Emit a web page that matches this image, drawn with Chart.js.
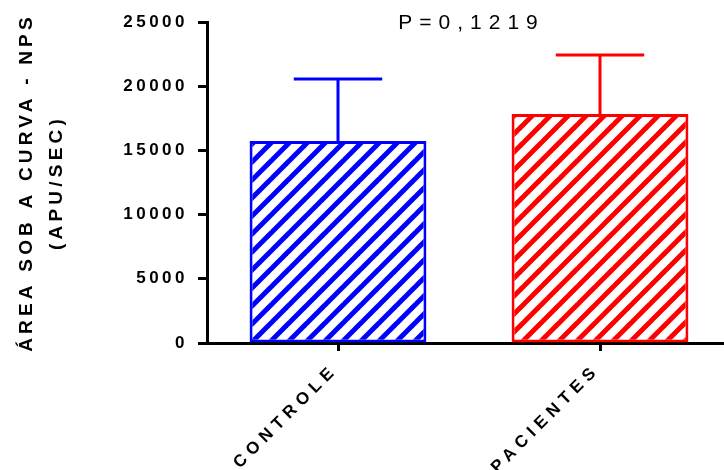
<!DOCTYPE html>
<html>
<head>
<meta charset="utf-8">
<script src="https://cdn.jsdelivr.net/npm/chart.js@4"></script>
<style>
  html, body { margin: 0; padding: 0; background: #fff; overflow: hidden; }
  #wrap { width: 724px; height: 470px; overflow: hidden; }
  canvas { display: block; }
</style>
</head>
<body>
<div id="wrap"><canvas id="c" width="740" height="470"></canvas></div>
<script>
// Groups, means and upper error (SD) of the area under the curve
const categories = ['CONTROLE', 'PACIENTES'];
const means = [15730, 17830];
const errors = [4830, 4600];
const colors = ['#0000FF', '#FF0000'];
const yTicks = [0, 5000, 10000, 15000, 20000, 25000];
const pValueText = 'P=0,1219';
const yTitle = ['ÁREA SOB A CURVA - NPS', '(APU/SEC)'];

const FONT = "'Liberation Sans', Arial, Helvetica, sans-serif";

// Diagonal hatch fill for a bar
function hatch(color) {
  const p = 18;
  const t = document.createElement('canvas');
  t.width = p; t.height = p;
  const g = t.getContext('2d');
  g.fillStyle = '#fff';
  g.fillRect(0, 0, p, p);
  g.strokeStyle = color;
  g.lineWidth = 5;
  g.lineCap = 'square';
  for (const x0 of [-p, 0, p]) {
    g.beginPath();
    g.moveTo(x0, p);
    g.lineTo(x0 + p, 0);
    g.stroke();
  }
  return g.createPattern(t, 'repeat');
}

// Wrap a scale drawing method so its text is letter-spaced
function spaced(scale, method, spacing) {
  if (scale['_sp_' + method]) return;
  const orig = scale[method];
  scale[method] = function (...args) {
    const ctx = this.ctx;
    const prev = ctx.letterSpacing;
    ctx.letterSpacing = spacing;
    const r = orig.apply(this, args);
    ctx.letterSpacing = prev;
    return r;
  };
  scale['_sp_' + method] = true;
}

const spacingPlugin = {
  id: 'spacing',
  afterUpdate(chart) {
    spaced(chart.scales.y, 'drawLabels', '3.5px');
    spaced(chart.scales.y, 'drawTitle', '4.2px');
    spaced(chart.scales.x, 'drawLabels', '5.5px');
  }
};

// Upper error whiskers with caps
const errorBars = {
  id: 'errorBars',
  afterDatasetsDraw(chart) {
    const ctx = chart.ctx;
    const meta = chart.getDatasetMeta(0);
    const y = chart.scales.y;
    ctx.save();
    ctx.lineWidth = 3;
    meta.data.forEach((bar, i) => {
      const top = y.getPixelForValue(means[i] + errors[i]);
      const base = y.getPixelForValue(means[i]);
      const half = bar.width / 4;
      ctx.strokeStyle = colors[i];
      ctx.beginPath();
      ctx.moveTo(bar.x, base);
      ctx.lineTo(bar.x, top);
      ctx.moveTo(bar.x - half, top);
      ctx.lineTo(bar.x + half, top);
      ctx.stroke();
    });
    ctx.restore();
  }
};

// P value annotation centred over the plot
const pLabel = {
  id: 'pLabel',
  afterDraw(chart) {
    const ctx = chart.ctx;
    const a = chart.chartArea;
    const sp = 7;
    ctx.save();
    ctx.letterSpacing = sp + 'px';
    ctx.font = '21px ' + FONT;
    ctx.fillStyle = '#000';
    ctx.textAlign = 'center';
    ctx.textBaseline = 'middle';
    ctx.fillText(pValueText, (a.left + a.right) / 2 + sp / 2 - 1, a.top + 1);
    ctx.restore();
  }
};

new Chart(document.getElementById('c'), {
  type: 'bar',
  data: {
    labels: categories,
    datasets: [{
      data: means,
      backgroundColor: colors.map(hatch),
      borderColor: colors,
      borderWidth: 3,
      borderSkipped: false,
      categoryPercentage: 1,
      barPercentage: 0.675
    }]
  },
  options: {
    responsive: false,
    animation: false,
    devicePixelRatio: 1,
    layout: { padding: { top: 22, right: 9, bottom: 0, left: 0 } },
    plugins: { legend: { display: false }, tooltip: { enabled: false } },
    scales: {
      x: {
        offset: true,
        grid: { display: true, drawOnChartArea: false, drawTicks: true, tickLength: 8, tickWidth: 3, tickColor: '#000', offset: false },
        border: { display: true, width: 3, color: '#000' },
        ticks: {
          color: '#000',
          font: { family: FONT, size: 17, weight: 'bold' },
          minRotation: 45,
          maxRotation: 45,
          padding: 9,
          labelOffset: -3
        },
        afterFit(s) { s.height = 127; }
      },
      y: {
        min: 0,
        max: 25000,
        afterBuildTicks(s) { s.ticks = yTicks.map(v => ({ value: v })); },
        grid: { display: true, drawOnChartArea: false, drawTicks: true, tickLength: 9, tickWidth: 3, tickColor: '#000' },
        border: { display: true, width: 3, color: '#000' },
        ticks: {
          color: '#000',
          font: { family: FONT, size: 17, weight: 'bold' },
          padding: 10,
          callback: v => String(v)
        },
        title: {
          display: true,
          text: yTitle,
          color: '#000',
          font: { family: FONT, size: 19, weight: 'bold', lineHeight: '30px' },
          padding: { top: 12, bottom: 0 }
        },
        afterFit(s) { s.width = 207; }
      }
    }
  },
  plugins: [spacingPlugin, errorBars, pLabel]
});
</script>
</body>
</html>
